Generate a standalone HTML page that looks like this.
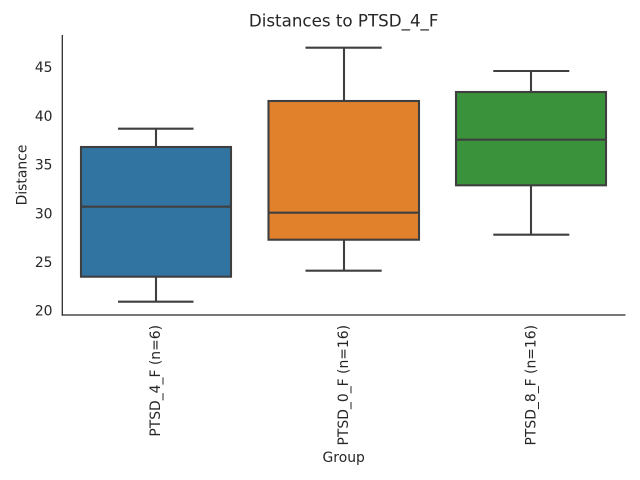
<!DOCTYPE html>
<html>
<head>
<meta charset="utf-8">
<style>
  html, body { margin: 0; padding: 0; background: #ffffff; }
  svg { display: block; }
  text { font-family: "DejaVu Sans", "Liberation Sans", sans-serif; fill: #262626; }
</style>
</head>
<body>
<svg width="640" height="480" viewBox="0 0 640 480" xmlns="http://www.w3.org/2000/svg">
  <rect width="640" height="480" fill="#ffffff"/>

  <!-- Title -->
  <text x="343.7" y="26.5" font-size="16.7" text-anchor="middle">Distances to PTSD_4_F</text>

  <!-- Box 1: PTSD_4_F -->
  <g stroke="#3f3f3f" stroke-width="2.1" fill="none">
    <line x1="156" y1="128.7" x2="156" y2="147"/>
    <line x1="156" y1="276.7" x2="156" y2="301.7"/>
    <line x1="118" y1="128.7" x2="193.5" y2="128.7"/>
    <line x1="118" y1="301.7" x2="193.5" y2="301.7"/>
  </g>
  <rect x="81" y="147" width="150" height="129.7" fill="#3274a1" stroke="#3f3f3f" stroke-width="2.1"/>
  <line x1="81" y1="206.7" x2="231" y2="206.7" stroke="#3f3f3f" stroke-width="2.1"/>

  <!-- Box 2: PTSD_0_F -->
  <g stroke="#3f3f3f" stroke-width="2.1" fill="none">
    <line x1="344" y1="47.7" x2="344" y2="101"/>
    <line x1="344" y1="239.7" x2="344" y2="270.7"/>
    <line x1="305.5" y1="47.7" x2="381.7" y2="47.7"/>
    <line x1="305.5" y1="270.7" x2="381.7" y2="270.7"/>
  </g>
  <rect x="268.5" y="101" width="150.5" height="138.7" fill="#e1812c" stroke="#3f3f3f" stroke-width="2.1"/>
  <line x1="268.5" y1="212.7" x2="419" y2="212.7" stroke="#3f3f3f" stroke-width="2.1"/>

  <!-- Box 3: PTSD_8_F -->
  <g stroke="#3f3f3f" stroke-width="2.1" fill="none">
    <line x1="531" y1="71" x2="531" y2="92"/>
    <line x1="531" y1="185.3" x2="531" y2="234.7"/>
    <line x1="493.3" y1="71" x2="569.3" y2="71"/>
    <line x1="493.3" y1="234.7" x2="569.3" y2="234.7"/>
  </g>
  <rect x="456" y="92" width="150" height="93.3" fill="#3a923a" stroke="#3f3f3f" stroke-width="2.1"/>
  <line x1="456" y1="139.7" x2="606" y2="139.7" stroke="#3f3f3f" stroke-width="2.1"/>

  <!-- Spines -->
  <line x1="62.3" y1="35" x2="62.3" y2="315.6" stroke="#262626" stroke-width="1.25"/>
  <line x1="61.7" y1="315" x2="625.5" y2="315" stroke="#262626" stroke-width="1.25"/>

  <!-- Y tick labels -->
  <g font-size="13.9" text-anchor="end">
    <text x="52.5" y="315.7">20</text>
    <text x="52.5" y="267.0">25</text>
    <text x="52.5" y="218.3">30</text>
    <text x="52.5" y="169.6">35</text>
    <text x="52.5" y="120.8">40</text>
    <text x="52.5" y="72.1">45</text>
  </g>

  <!-- Y axis label -->
  <text transform="translate(26.5,175) rotate(-90)" font-size="13.9" text-anchor="middle">Distance</text>

  <!-- X tick labels (rotated) -->
  <g font-size="13.9" text-anchor="end">
    <text transform="translate(160.2,325) rotate(-90)">PTSD_4_F (n=6)</text>
    <text transform="translate(348,325) rotate(-90)">PTSD_0_F (n=16)</text>
    <text transform="translate(535.6,325) rotate(-90)">PTSD_8_F (n=16)</text>
  </g>

  <!-- X axis label -->
  <text x="343.7" y="462" font-size="13.9" text-anchor="middle">Group</text>
</svg>
</body>
</html>
